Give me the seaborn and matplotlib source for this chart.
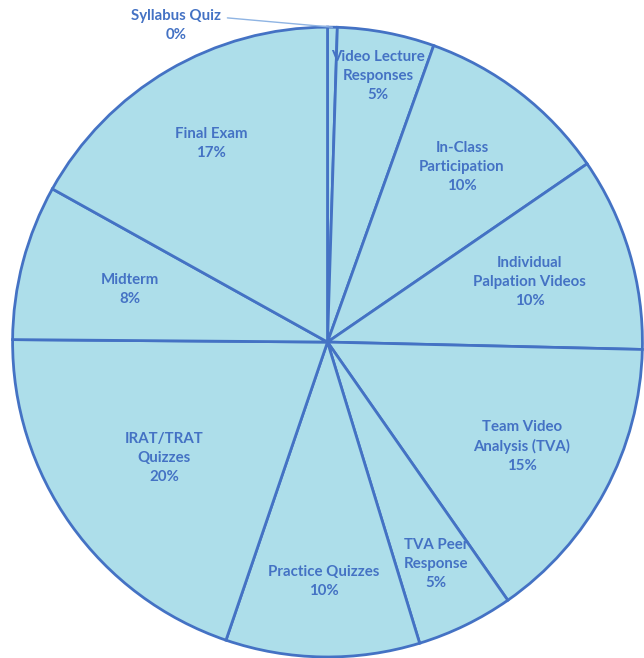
import numpy as np
import matplotlib
matplotlib.use("Agg")
import matplotlib.pyplot as plt
import seaborn as sns

# grade weights, clockwise from 12 o'clock
components = [
    "Syllabus Quiz",
    "Video Lecture\nResponses",
    "In-Class\nParticipation",
    "Individual\nPalpation Videos",
    "Team Video\nAnalysis (TVA)",
    "TVA Peer\nResponse",
    "Practice Quizzes",
    "IRAT/TRAT\nQuizzes",
    "Midterm",
    "Final Exam",
]
weights = [0.5, 5, 10, 10, 15, 5, 10, 20, 8, 17]

# radial position of each in-slice label (fraction of radius)
label_radius = [None, 0.86, 0.70, 0.67, 0.70, 0.785, 0.76, 0.635, 0.65, 0.73]

sns.set_theme(style="white")
plt.rcParams["font.family"] = ["Lato", "DejaVu Sans"]

fill = "#ADDEEA"
edge = "#4472C4"
text_color = "#4472C4"
font_kw = dict(ha="center", va="center", fontsize=10.8, fontweight="bold",
               color=text_color, linespacing=1.45)

fig = plt.figure(figsize=(6.44, 6.58), dpi=100)
ax = fig.add_axes([0, 0, 1, 1])

wedges, _ = ax.pie(
    weights,
    colors=[fill] * len(weights),
    startangle=90,
    counterclock=False,
    radius=1.0,
    wedgeprops=dict(edgecolor=edge, linewidth=2.0),
)

total = sum(weights)
for i, (w, name, val) in enumerate(zip(wedges, components, weights)):
    label = f"{name}\n{val / total * 100:.0f}%"
    ang = np.deg2rad((w.theta1 + w.theta2) / 2)
    if label_radius[i] is None:
        # tiny slice gets an outside label with a leader line
        ax.annotate(
            label, xy=(np.cos(ang), np.sin(ang)), xytext=(-0.48, 1.006),
            arrowprops=dict(arrowstyle="-", color="#8FB4E3", lw=1.0,
                            relpos=(1.0, 0.74), shrinkA=2, shrinkB=0),
            **font_kw,
        )
        continue
    r = label_radius[i]
    ax.text(r * np.cos(ang), r * np.sin(ang), label, **font_kw)

ax.set_aspect("equal")
ax.set_xlim(-1.040, 1.005)
ax.set_ylim(-1.003, 1.086)
ax.axis("off")

fig.savefig("out.png", dpi=100)
